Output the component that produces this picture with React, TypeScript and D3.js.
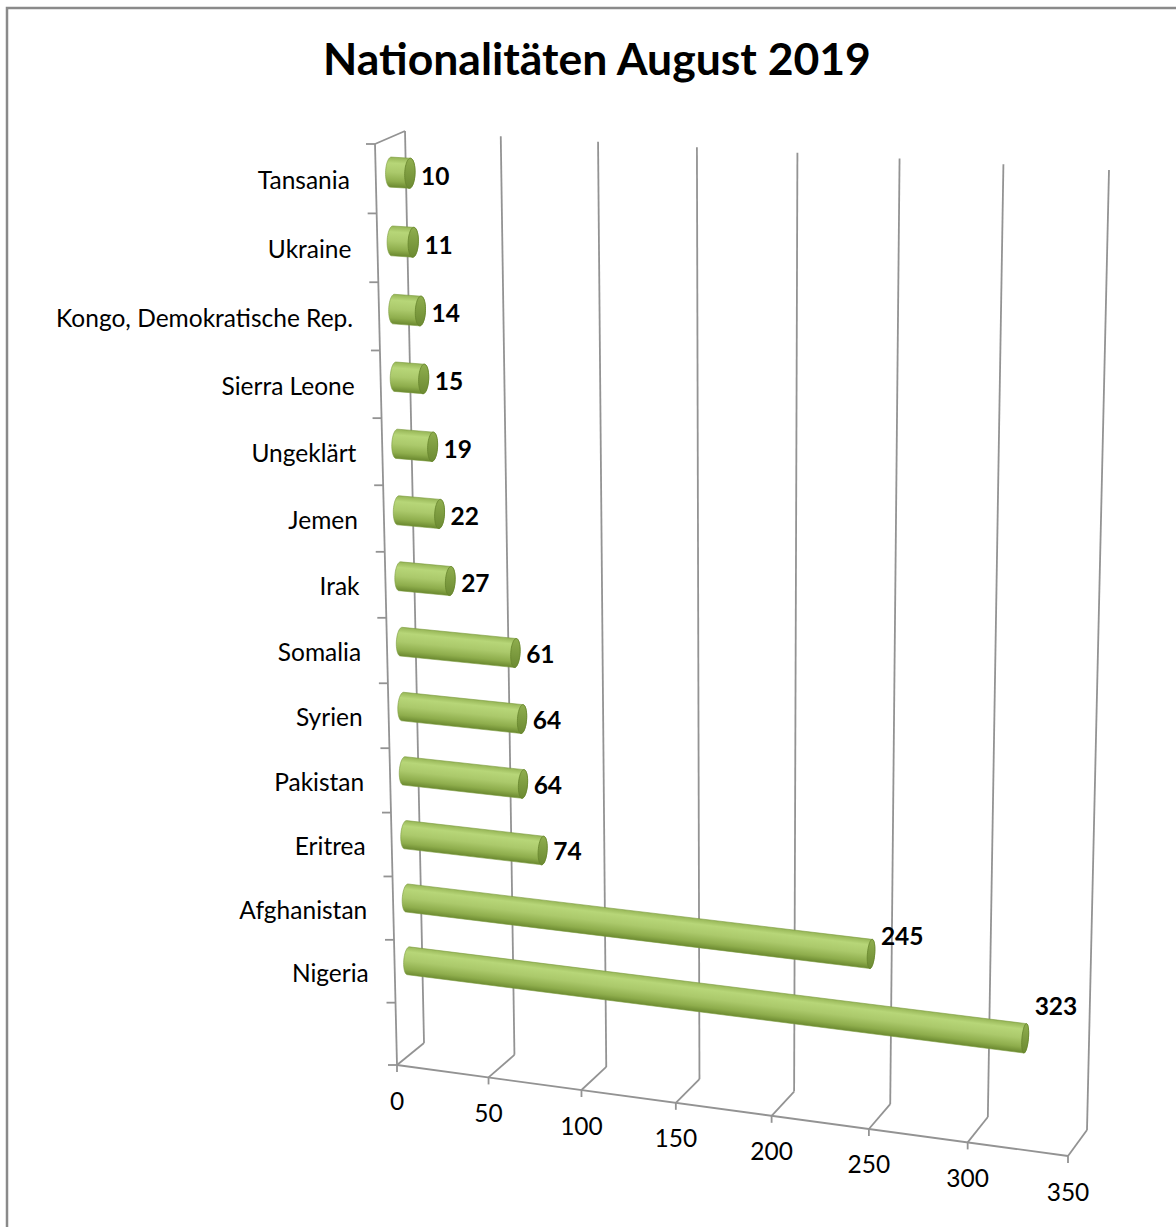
import React from 'react';
import * as d3 from 'd3';

const title = 'Nationalitäten August 2019';
const categories = [
  'Tansania', 'Ukraine', 'Kongo, Demokratische Rep.', 'Sierra Leone', 'Ungeklärt',
  'Jemen', 'Irak', 'Somalia', 'Syrien', 'Pakistan', 'Eritrea', 'Afghanistan', 'Nigeria',
];
const values = [10, 11, 14, 15, 19, 22, 27, 61, 64, 64, 74, 245, 323];
const valueTicks = [0, 50, 100, 150, 200, 250, 300, 350];

type Pt = [number, number];

function makeHomography(q: Pt[]) {
  const [[x0, y0], [x1, y1], [x2, y2], [x3, y3]] = q;
  const dx1 = x1 - x2, dx2 = x3 - x2, dx3 = x0 - x1 + x2 - x3;
  const dy1 = y1 - y2, dy2 = y3 - y2, dy3 = y0 - y1 + y2 - y3;
  const det = dx1 * dy2 - dx2 * dy1;
  const g = (dx3 * dy2 - dx2 * dy3) / det;
  const h = (dx1 * dy3 - dx3 * dy1) / det;
  const a = x1 - x0 + g * x1, b = x3 - x0 + h * x3, c = x0;
  const d = y1 - y0 + g * y1, e = y3 - y0 + h * y3, f = y0;
  return (u: number, v: number): Pt => {
    const w = g * u + h * v + 1;
    return [(a * u + b * v + c) / w, (d * u + e * v + f) / w];
  };
}

// plot frame: front plane (depth 0) and back plane (depth 1), corners TL, TR, BR, BL
const backPlane = makeHomography([[405, 131], [1109, 170], [1087, 1130], [424, 1043]]);
const frontPlane = makeHomography([[375, 144], [1087, 187], [1068, 1156], [397, 1065]]);

const slotCount = categories.length + 1;
const uScale = d3.scaleLinear().domain([0, valueTicks[valueTicks.length - 1]]).range([0, 1]);
const wScale = d3.scaleLinear().domain([0, slotCount]).range([0, 1]);

function P(v: number, s: number, z: number): Pt {
  const u = uScale(v), w = wScale(s);
  const f = frontPlane(u, w), b = backPlane(u, w);
  return [f[0] + (b[0] - f[0]) * z, f[1] + (b[1] - f[1]) * z];
}

const GRID = '#939393';
const line = d3.line();

export default function App() {
  React.useEffect(() => {
    document.body.style.margin = '0';
  }, []);

  const maxV = d3.max(values) as number;
  const rS = 0.215, rZ = 0.175, zc = 0.5;
  const angles = d3.range(0, 48).map((k) => (k / 48) * Math.PI * 2);

  const bars = values.map((v, i) => {
    const sc = i + 0.5;
    const ring = (val: number) => angles.map((t) => P(val, sc + rS * Math.sin(t), zc + rZ * Math.cos(t)));
    const startRing = ring(0);
    const endRing = ring(v);
    const hull = d3.polygonHull([...startRing, ...endRing]) as Pt[];
    const a = P(0, sc, zc), b = P(v, sc, zc);
    const len = Math.hypot(b[0] - a[0], b[1] - a[1]) || 1;
    const dir = [(b[0] - a[0]) / len, (b[1] - a[1]) / len];
    const n = [-dir[1], dir[0]];
    const M = [(a[0] + b[0]) / 2, (a[1] + b[1]) / 2];
    const offs = hull.map((p) => (p[0] - M[0]) * n[0] + (p[1] - M[1]) * n[1]);
    const mn = d3.min(offs) as number, mx = d3.max(offs) as number;
    const g1: Pt = [M[0] + n[0] * mn, M[1] + n[1] * mn];
    const g2: Pt = [M[0] + n[0] * mx, M[1] + n[1] * mx];
    const capOffs = endRing.map((p) => (p[0] - b[0]) * n[0] + (p[1] - b[1]) * n[1]);
    const c1: Pt = [b[0] + n[0] * (d3.min(capOffs) as number), b[1] + n[1] * (d3.min(capOffs) as number)];
    const c2: Pt = [b[0] + n[0] * (d3.max(capOffs) as number), b[1] + n[1] * (d3.max(capOffs) as number)];
    const capRight = d3.max(endRing, (p) => p[0]) as number;
    const labelX = capRight + 6;
    const labelY = b[1] + 2 - 35 * Math.pow(v / maxV, 2);
    return { i, v, hull, endRing, g1, g2, c1, c2, labelX, labelY };
  });

  return (
    <svg width={1176} height={1227} style={{ display: 'block', background: '#fff' }} fontFamily="Lato, 'Open Sans', sans-serif">
      <defs>
        {bars.map((b) => (
          <React.Fragment key={b.i}>
            <linearGradient id={`body${b.i}`} gradientUnits="userSpaceOnUse" x1={b.g1[0]} y1={b.g1[1]} x2={b.g2[0]} y2={b.g2[1]}>
              <stop offset="0" stopColor="#96b556" />
              <stop offset="0.2" stopColor="#b7d678" />
              <stop offset="0.5" stopColor="#abc96b" />
              <stop offset="0.8" stopColor="#8ead4c" />
              <stop offset="1" stopColor="#6a882f" />
            </linearGradient>
            <linearGradient id={`cap${b.i}`} gradientUnits="userSpaceOnUse" x1={b.c1[0]} y1={b.c1[1]} x2={b.c2[0]} y2={b.c2[1]}>
              <stop offset="0" stopColor="#8fae4e" />
              <stop offset="1" stopColor="#6c8a32" />
            </linearGradient>
          </React.Fragment>
        ))}
      </defs>

      <rect x={7} y={8} width={1220} height={1260} fill="none" stroke="#8a8a8a" strokeWidth={2.5} />

      <text x={597} y={75} textAnchor="middle" fontSize={44.5} fontWeight="bold" fill="#000">{title}</text>

      {/* back wall gridlines */}
      {valueTicks.map((t) => (
        <path key={`g${t}`} d={line([P(t, 0, 1), P(t, slotCount, 1)]) as string} stroke={GRID} strokeWidth={1.8} fill="none" />
      ))}
      {/* floor (bottom side) lines */}
      {valueTicks.map((t) => (
        <path key={`f${t}`} d={line([P(t, slotCount, 0), P(t, slotCount, 1)]) as string} stroke={GRID} strokeWidth={1.8} fill="none" />
      ))}
      {/* left wall edges */}
      <path d={line([P(0, 0, 0), P(0, slotCount, 0)]) as string} stroke={GRID} strokeWidth={1.8} fill="none" />
      <path d={line([P(0, 0, 0), P(0, 0, 1)]) as string} stroke={GRID} strokeWidth={1.8} fill="none" />
      {/* value axis */}
      <path d={line([P(0, slotCount, 0), P(valueTicks[valueTicks.length - 1], slotCount, 0)]) as string} stroke={GRID} strokeWidth={1.8} fill="none" />
      {valueTicks.map((t) => {
        const p = P(t, slotCount, 0);
        return <path key={`vt${t}`} d={line([p, [p[0], p[1] + 7]]) as string} stroke={GRID} strokeWidth={1.8} />;
      })}
      {d3.range(0, slotCount + 1).map((k) => {
        const p = P(0, k, 0);
        return <path key={`ct${k}`} d={line([[p[0] - 9, p[1]], p]) as string} stroke={GRID} strokeWidth={1.8} />;
      })}

      {/* value tick labels */}
      {valueTicks.map((t) => {
        const p = P(t, slotCount, 0);
        return (
          <text key={`vl${t}`} x={p[0]} y={p[1] + 35} textAnchor="middle" dominantBaseline="central" fontSize={24.5} fill="#000">
            {t}
          </text>
        );
      })}

      {/* category labels */}
      {categories.map((c, i) => {
        const p = P(0, i + 0.5, 0);
        return (
          <text key={c} x={p[0] - 26} y={p[1] + 1} textAnchor="end" dominantBaseline="central" fontSize={24.5} fill="#000">
            {c}
          </text>
        );
      })}

      {/* bars */}
      {bars.map((b) => (
        <g key={`b${b.i}`}>
          <path d={(line(b.hull) as string) + 'Z'} fill={`url(#body${b.i})`} stroke="#7a9a3d" strokeWidth={0.6} />
          <path d={(line(b.endRing) as string) + 'Z'} fill={`url(#cap${b.i})`} stroke="#66842c" strokeWidth={0.8} />
        </g>
      ))}

      {/* data labels */}
      {bars.map((b) => (
        <text key={`dl${b.i}`} x={b.labelX} y={b.labelY} dominantBaseline="central" fontSize={24.5} fontWeight="bold" fill="#000">
          {b.v}
        </text>
      ))}
    </svg>
  );
}
